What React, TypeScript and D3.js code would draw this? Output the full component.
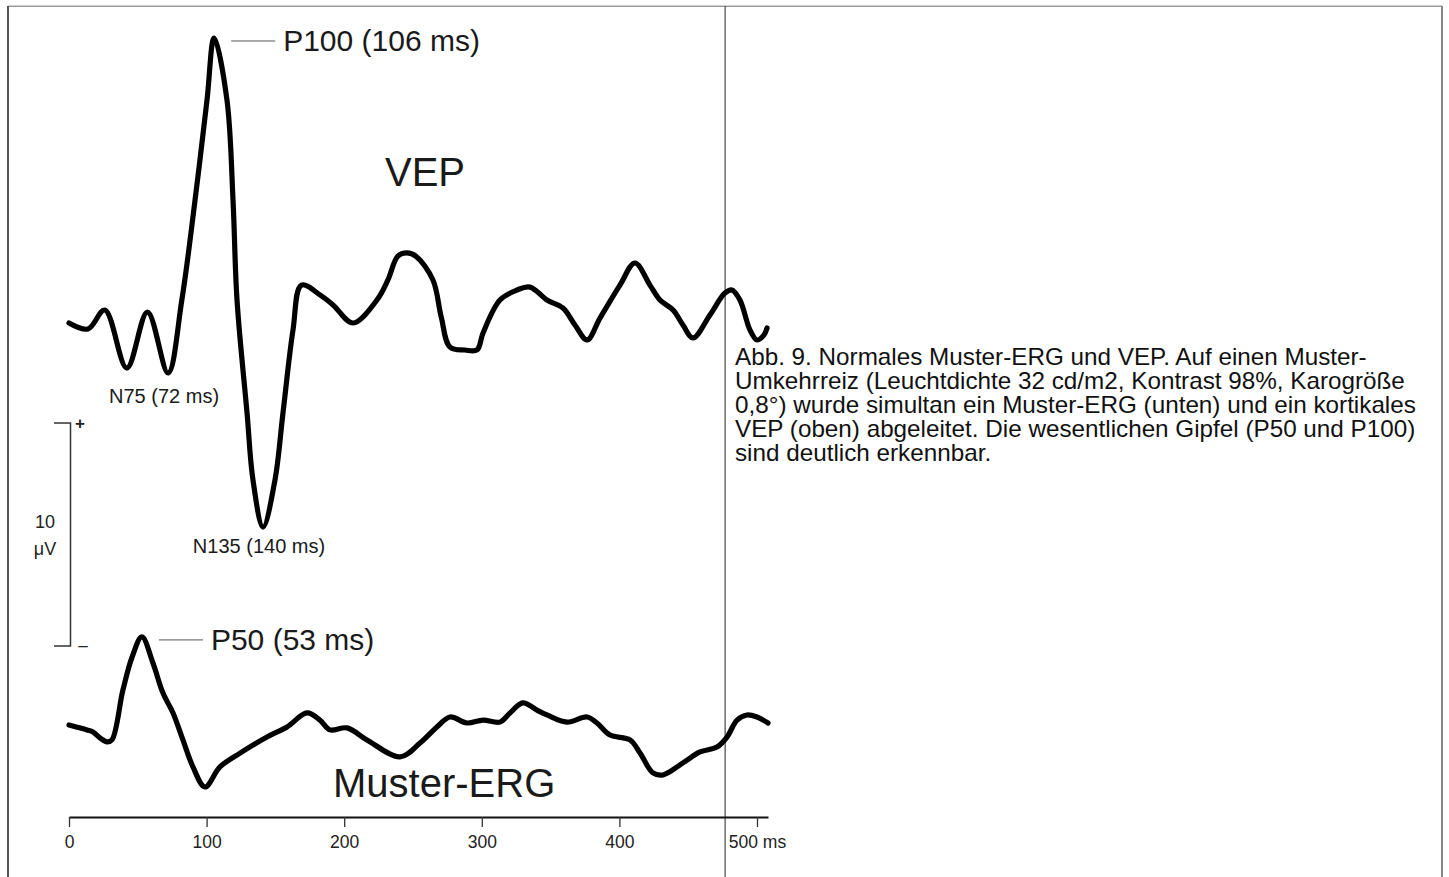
import React, { useEffect, useRef } from "react";
import * as d3 from "d3";

// ---- data (time in ms, amplitude in µV relative to each trace's baseline) ----
const vepMs = [0, 13.8, 26, 42, 57, 72, 82, 91.6, 100.3, 105.5, 114.8, 119.2, 122.1, 129.4, 133.7, 141, 149.7, 155.5, 162.8, 169, 182.4, 191.9, 206.4, 223.8, 231.8, 239, 245.6, 252, 264.5, 270.5, 276.9, 287.8, 296.5, 300.9, 313.2, 325.6, 335, 347.4, 359, 367.7, 376.5, 385.9, 400.4, 411.3, 422.2, 429.5, 439, 446.2, 453.5, 465.8, 476.7, 481.8, 487.6, 494.9, 500, 505, 507.3];
const vepUv = [0.09, -0.18, 0.67, -1.93, 0.58, -2.15, 1.12, 5.6, 10.09, 12.87, 10.09, 5.6, 1.12, -3.95, -6.95, -9.06, -6.95, -3.95, -0.22, 1.79, 1.35, 0.9, 0.09, 1.12, 2.02, 3.09, 3.23, 3.09, 2.02, 0.36, -0.99, -1.12, -1.12, -0.36, 1.12, 1.57, 1.7, 1.12, 0.76, 0, -0.67, 0.31, 1.79, 2.78, 1.79, 1.12, 0.67, 0, -0.58, 0.45, 1.43, 1.57, 1.12, -0.22, -0.67, -0.45, -0.13];

const ergMs = [0, 13.1, 17.4, 22.5, 27.6, 31.2, 39.2, 45.8, 53, 61, 68.3, 75.6, 82.8, 90.1, 98.8, 109.7, 124.3, 143.9, 158.4, 173, 182.4, 189.7, 202, 216.6, 240.6, 255.1, 267.4, 276.9, 289.2, 300.9, 313.2, 320.5, 329.9, 340.1, 347.4, 361.9, 376.5, 383.7, 393.2, 407.7, 415, 424.4, 431.7, 446.2, 458.6, 470.9, 478.2, 485.5, 492.7, 500, 508];
const ergUv = [0, -0.22, -0.31, -0.58, -0.76, -0.67, 1.57, 3.04, 3.95, 2.78, 1.43, 0.54, -0.67, -1.88, -2.78, -1.88, -1.26, -0.54, -0.09, 0.54, 0.22, -0.22, -0.13, -0.67, -1.43, -0.81, -0.09, 0.36, 0.09, 0.22, 0.13, 0.54, 0.99, 0.67, 0.45, 0.13, 0.36, 0.09, -0.45, -0.67, -1.26, -2.15, -2.24, -1.7, -1.21, -0.99, -0.54, 0.22, 0.45, 0.36, 0.09];

const xTicks = [0, 100, 200, 300, 400, 500];
const xDomain = [0, 508];

const traceNames = ["VEP", "Muster-ERG"];
const peakLabels = ["P100 (106 ms)", "P50 (53 ms)"];
const troughLabels = ["N75 (72 ms)", "N135 (140 ms)"];
const troughMs = [72, 141];
const scaleBarUv = 10;
const scaleBarText = ["10", "\u03bcV"];

const captionLines = [
  "Abb. 9. Normales Muster-ERG und VEP. Auf einen Muster-",
  "Umkehrreiz (Leuchtdichte 32 cd/m2, Kontrast 98%, Karogröße",
  "0,8°) wurde simultan ein Muster-ERG (unten) und ein kortikales",
  "VEP (oben) abgeleitet. Die wesentlichen Gipfel (P50 und P100)",
  "sind deutlich erkennbar.",
];

const W = 1449;
const H = 877;
const FONT = "'Liberation Sans', Arial, Helvetica, sans-serif";

export default function App() {
  const ref = useRef<SVGSVGElement | null>(null);

  useEffect(() => {
    const svg = d3.select(ref.current);
    svg.selectAll("*").remove();

    const x = d3.scaleLinear().domain(xDomain).range([69, 768]);
    const vepY = d3.scaleLinear().domain([0, 10]).range([325, 102]);
    const ergY = d3.scaleLinear().domain([0, 10]).range([725, 502]);

    // ---- table borders ----
    svg.append("rect").attr("x", 8).attr("y", 5.5).attr("width", 1434).attr("height", 1.5).attr("fill", "#9a9a9a");
    svg.append("rect").attr("x", 7).attr("y", 6).attr("width", 2).attr("height", H).attr("fill", "#555");
    svg.append("rect").attr("x", 1441).attr("y", 6).attr("width", 2).attr("height", H).attr("fill", "#888");
    svg.append("rect").attr("x", 724.5).attr("y", 6).attr("width", 1.3).attr("height", H).attr("fill", "#555");

    const g = svg.append("g");

    // ---- traces ----
    const line = d3
      .line<[number, number]>()
      .x((d) => x(d[0]))
      .curve(d3.curveCatmullRom.alpha(0.5));

    const vepData: [number, number][] = vepMs.map((m, i) => [m, vepUv[i]]);
    const ergData: [number, number][] = ergMs.map((m, i) => [m, ergUv[i]]);

    g.append("path")
      .attr("d", line.y((d) => vepY(d[1]))(vepData))
      .attr("fill", "none")
      .attr("stroke", "#000")
      .attr("stroke-width", 5.2)
      .attr("stroke-linejoin", "round")
      .attr("stroke-linecap", "round");

    g.append("path")
      .attr("d", line.y((d) => ergY(d[1]))(ergData))
      .attr("fill", "none")
      .attr("stroke", "#000")
      .attr("stroke-width", 5.2)
      .attr("stroke-linejoin", "round")
      .attr("stroke-linecap", "round");

    // ---- x axis ----
    const axis = d3
      .axisBottom(x)
      .tickValues(xTicks)
      .tickSize(10)
      .tickSizeOuter(0)
      .tickPadding(9)
      .tickFormat((d) => (d === 500 ? "500 ms" : String(d)));
    const ax = g.append("g").attr("transform", "translate(0,817)").call(axis);
    ax.select(".domain").attr("stroke", "#111").attr("stroke-width", 2);
    ax.selectAll(".tick line").attr("stroke", "#333").attr("stroke-width", 1.3);
    ax.selectAll(".tick text")
      .attr("font-family", FONT)
      .attr("font-size", 17.5)
      .attr("fill", "#222");

    // ---- peak labels ----
    const vepPeakIdx = vepUv.indexOf(d3.max(vepUv) as number);
    const ergPeakIdx = ergUv.indexOf(d3.max(ergUv) as number);
    const peaks = [
      { px: x(vepMs[vepPeakIdx]), py: vepY(vepUv[vepPeakIdx]), label: peakLabels[0] },
      { px: x(ergMs[ergPeakIdx]), py: ergY(ergUv[ergPeakIdx]), label: peakLabels[1] },
    ];
    peaks.forEach((p) => {
      const ly = p.py + 3;
      g.append("line")
        .attr("x1", p.px + 17)
        .attr("x2", p.px + 61)
        .attr("y1", ly)
        .attr("y2", ly)
        .attr("stroke", "#555")
        .attr("stroke-width", 1);
      g.append("text")
        .attr("x", p.px + 69)
        .attr("y", ly + 10)
        .attr("font-family", FONT)
        .attr("font-size", 30)
        .attr("fill", "#1a1a1a")
        .text(p.label);
    });

    // ---- trough labels ----
    troughMs.forEach((m, i) => {
      const idx = vepMs.indexOf(m);
      const ty = vepY(vepUv[idx]);
      g.append("text")
        .attr("x", x(m) - 4)
        .attr("y", ty + (i === 0 ? 30 : 26))
        .attr("text-anchor", "middle")
        .attr("font-family", FONT)
        .attr("font-size", 20)
        .attr("fill", "#1a1a1a")
        .text(troughLabels[i]);
    });

    // ---- trace names ----
    g.append("text")
      .attr("x", 385)
      .attr("y", 186)
      .attr("font-family", FONT)
      .attr("font-size", 40)
      .attr("fill", "#1a1a1a")
      .text(traceNames[0]);
    g.append("text")
      .attr("x", 333)
      .attr("y", 797)
      .attr("font-family", FONT)
      .attr("font-size", 40)
      .attr("fill", "#1a1a1a")
      .text(traceNames[1]);

    // ---- scale bar ----
    const barBottom = 646;
    const barLen = vepY(0) - vepY(scaleBarUv);
    const barTop = barBottom - barLen;
    const sb = g.append("g").attr("stroke", "#333").attr("stroke-width", 1.5).attr("fill", "none");
    sb.append("path").attr("d", `M54,${barTop}H70.5V${barBottom}H54`);
    g.append("text").attr("x", 80).attr("y", barTop + 6).attr("text-anchor", "middle")
      .attr("font-family", FONT).attr("font-size", 17).attr("font-weight", "bold").attr("fill", "#222").text("+");
    g.append("text").attr("x", 83).attr("y", barBottom + 5).attr("text-anchor", "middle")
      .attr("font-family", FONT).attr("font-size", 17).attr("fill", "#222").text("–");
    scaleBarText.forEach((t, i) => {
      g.append("text")
        .attr("x", 45)
        .attr("y", 528 + i * 27)
        .attr("text-anchor", "middle")
        .attr("font-family", FONT)
        .attr("font-size", 18)
        .attr("fill", "#222")
        .text(t);
    });

    // ---- caption ----
    const cap = svg.append("g").attr("transform", "translate(735,0) scale(1.055,1)");
    captionLines.forEach((t, i) => {
      cap.append("text")
        .attr("x", 0)
        .attr("y", 365 + i * 24)
        .attr("font-family", FONT)
        .attr("font-size", 23)
        .attr("fill", "#111")
        .text(t);
    });
  }, []);

  return (
    <svg
      ref={ref}
      width={W}
      height={H}
      style={{ position: "absolute", left: 0, top: 0, display: "block", background: "#fff" }}
    />
  );
}
